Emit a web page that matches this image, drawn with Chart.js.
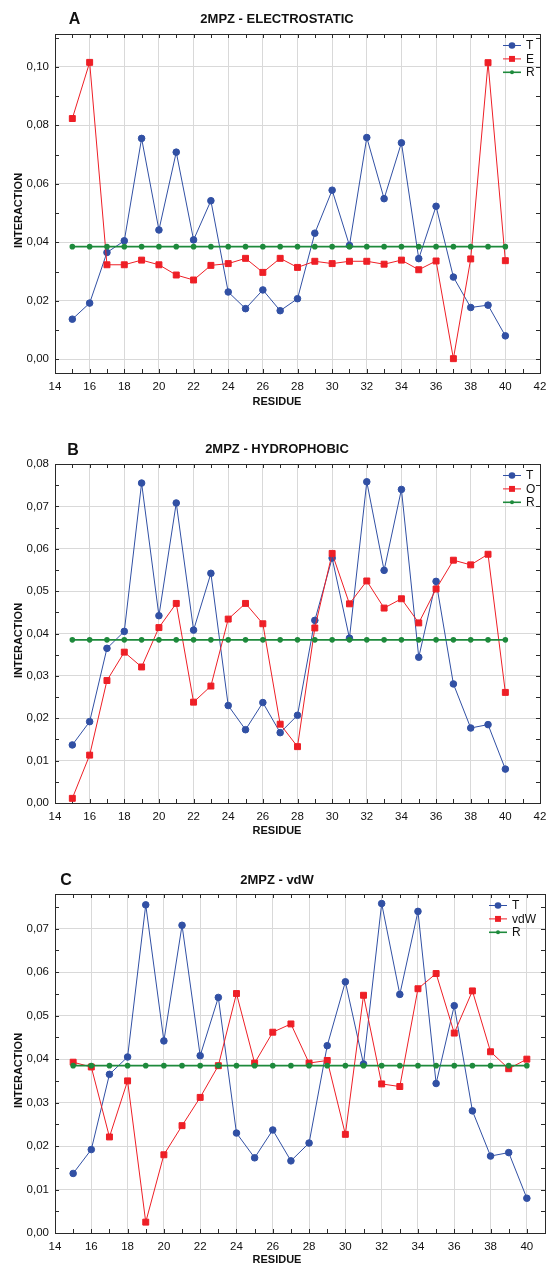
<!DOCTYPE html>
<html>
<head>
<meta charset="utf-8">
<script src="https://cdn.jsdelivr.net/npm/chart.js@4.4.1/dist/chart.umd.min.js"></script>
<style>
  html, body { margin: 0; padding: 0; background: #fff; overflow: hidden; }
  .panel { position: absolute; left: 0; width: 546px; }
</style>
</head>
<body>
<div class="panel" style="top:0px"><canvas id="chartA" width="546" height="412"></canvas></div>
<div class="panel" style="top:430px"><canvas id="chartB" width="546" height="412"></canvas></div>
<div class="panel" style="top:860px"><canvas id="chartC" width="546" height="405"></canvas></div>
<script>
// residues on the x axis
const residues = [15, 16, 17, 18, 19, 20, 21, 22, 23, 24, 25, 26, 27, 28, 29, 30, 31, 32, 33, 34, 35, 36, 37, 38, 39, 40];

// T series (same in all three panels)
const seriesT = [0.0137, 0.0192, 0.0365, 0.0405, 0.0755, 0.0442, 0.0708, 0.0408, 0.0542, 0.0230, 0.0173, 0.0237, 0.0166,
                 0.0207, 0.0431, 0.0578, 0.0389, 0.0758, 0.0549, 0.0740, 0.0344, 0.0523, 0.0281, 0.0177, 0.0185, 0.0080];
// electrostatic
const seriesE = [0.0823, 0.1015, 0.0323, 0.0323, 0.0339, 0.0323, 0.0288, 0.0271, 0.0321, 0.0327, 0.0345, 0.0297, 0.0345,
                 0.0314, 0.0335, 0.0327, 0.0335, 0.0335, 0.0325, 0.0339, 0.0306, 0.0336, 0.0002, 0.0343, 0.1014, 0.0337];
// hydrophobic
const seriesO = [0.0011, 0.0113, 0.0289, 0.0356, 0.0321, 0.0414, 0.0471, 0.0238, 0.0276, 0.0434, 0.0471, 0.0423, 0.0186,
                 0.0133, 0.0413, 0.0589, 0.0470, 0.0524, 0.0460, 0.0482, 0.0425, 0.0505, 0.0573, 0.0562, 0.0587, 0.0261];
// van der Waals
const seriesVdW = [0.0393, 0.0382, 0.0221, 0.0350, 0.0025, 0.0180, 0.0247, 0.0312, 0.0385, 0.0551, 0.0391, 0.0462, 0.0481,
                   0.0391, 0.0397, 0.0227, 0.0547, 0.0343, 0.0337, 0.0562, 0.0597, 0.0460, 0.0557, 0.0417, 0.0378, 0.0400];
// reference level R
const seriesR = [0.0385, 0.0385, 0.0385, 0.0385, 0.0385, 0.0385, 0.0385, 0.0385, 0.0385, 0.0385, 0.0385, 0.0385, 0.0385,
                 0.0385, 0.0385, 0.0385, 0.0385, 0.0385, 0.0385, 0.0385, 0.0385, 0.0385, 0.0385, 0.0385, 0.0385, 0.0385];

// tick labels
const xTicksAB = [14, 16, 18, 20, 22, 24, 26, 28, 30, 32, 34, 36, 38, 40, 42];
const xTicksC = [14, 16, 18, 20, 22, 24, 26, 28, 30, 32, 34, 36, 38, 40];
const yTicksA = [0, 0.02, 0.04, 0.06, 0.08, 0.10];
const yTicksB = [0, 0.01, 0.02, 0.03, 0.04, 0.05, 0.06, 0.07, 0.08];
const yTicksC = [0, 0.01, 0.02, 0.03, 0.04, 0.05, 0.06, 0.07];

const FONT = "'Liberation Sans', Arial, sans-serif";
const BLUE = '#3150a4';
const RED = '#ee1f26';
const GREEN = '#1e8a3c';

const toPoints = (vals) => residues.map((r, i) => ({ x: r, y: vals[i] }));

// frame, inner minor ticks, titles and the legend inside the plot
const panelDecor = {
    id: 'panelDecor',
    beforeDatasetsDraw(chart, args, opts) {
        const { ctx, chartArea: a, scales: { x, y } } = chart;
        ctx.save();
        ctx.strokeStyle = '#2a2a2a';
        ctx.lineWidth = 1;
        ctx.beginPath();
        for (let v = Math.ceil(x.min); v <= x.max; v++) {
            const px = Math.round(x.getPixelForValue(v)) + 0.5;
            ctx.moveTo(px, a.bottom); ctx.lineTo(px, a.bottom - 4);
            ctx.moveTo(px, a.top); ctx.lineTo(px, a.top + 4);
        }
        for (let k = 0; k * opts.yMinor <= y.max + 1e-9; k++) {
            const py = Math.round(y.getPixelForValue(k * opts.yMinor)) + 0.5;
            ctx.moveTo(a.left, py); ctx.lineTo(a.left + 4, py);
            ctx.moveTo(a.right, py); ctx.lineTo(a.right - 4, py);
        }
        ctx.stroke();
        ctx.strokeRect(Math.round(a.left) + 0.5, Math.round(a.top) + 0.5, Math.round(a.width), Math.round(a.height));
        ctx.restore();
    },
    afterDraw(chart, args, opts) {
        const { ctx, chartArea: a } = chart;
        ctx.save();
        ctx.fillStyle = '#111';
        ctx.textAlign = 'center';
        ctx.textBaseline = 'middle';

        ctx.font = 'bold 16px ' + FONT;
        ctx.fillText(opts.letter, opts.letterX, opts.headY + 1);
        ctx.font = 'bold 13px ' + FONT;
        ctx.fillText(opts.title, 277, opts.headY);

        ctx.font = 'bold 11px ' + FONT;
        ctx.fillText('RESIDUE', 277, opts.xTitleY);
        ctx.save();
        ctx.translate(19, (a.top + a.bottom) / 2 + 7);
        ctx.rotate(-Math.PI / 2);
        ctx.fillText('INTERACTION', 0, 0);
        ctx.restore();

        // legend
        ctx.font = '12px ' + FONT;
        ctx.textAlign = 'left';
        chart.data.datasets.forEach((ds, i) => {
            const ly = a.top + 11.5 + i * 13.4;
            const lx = opts.legendX;
            ctx.strokeStyle = ds.borderColor;
            ctx.lineWidth = ds.borderWidth;
            ctx.beginPath();
            ctx.moveTo(lx, ly); ctx.lineTo(lx + 18, ly);
            ctx.stroke();
            ctx.fillStyle = ds.pointBackgroundColor;
            const r = ds.pointRadius;
            if (ds.pointStyle === 'rect') {
                const s = r * Math.SQRT2;
                ctx.fillRect(lx + 9 - s / 2, ly - s / 2, s, s);
            } else {
                ctx.beginPath();
                ctx.arc(lx + 9, ly, r, 0, Math.PI * 2);
                ctx.fill();
            }
            ctx.fillStyle = '#111';
            ctx.fillText(ds.label, lx + 23, ly + 0.5);
        });
        ctx.restore();
    }
};

function makeDatasets(label2, vals2) {
    return [
        { label: 'T', data: toPoints(seriesT), borderColor: BLUE, backgroundColor: BLUE,
          pointBackgroundColor: BLUE, pointBorderColor: BLUE, borderWidth: 1, pointRadius: 3.3,
          pointStyle: 'circle', order: 2 },
        { label: label2, data: toPoints(vals2), borderColor: RED, backgroundColor: RED,
          pointBackgroundColor: RED, pointBorderColor: RED, borderWidth: 1, pointRadius: 4.2,
          pointStyle: 'rect', order: 1 },
        { label: 'R', data: toPoints(seriesR), borderColor: GREEN, backgroundColor: GREEN,
          pointBackgroundColor: GREEN, pointBorderColor: GREEN, borderWidth: 1.6, pointRadius: 2,
          pointStyle: 'circle', order: 0 }
    ];
}

function makeChart(id, cfg) {
    const canvas = document.getElementById(id);
    const H = canvas.height;
    return new Chart(canvas, {
        type: 'line',
        data: { datasets: makeDatasets(cfg.label2, cfg.vals2) },
        options: {
            responsive: false,
            animation: false,
            events: [],
            layout: { autoPadding: false, padding: { top: 34, right: 546 - cfg.right, left: 0, bottom: 0 } },
            plugins: {
                legend: { display: false },
                tooltip: { enabled: false },
                panelDecor: {
                    letter: cfg.letter, letterX: cfg.letterX, title: cfg.title, headY: cfg.headY,
                    xTitleY: cfg.xTitleY, legendX: cfg.legendX, yMinor: cfg.yMinor
                }
            },
            scales: {
                x: {
                    type: 'linear', min: 14, max: cfg.xMax,
                    afterFit: (s) => {
                        s.height = H - 373;
                        s.paddingLeft = 0;
                        s.paddingRight = 0;
                    },
                    afterBuildTicks: (s) => { s.ticks = cfg.xTicks.map(v => ({ value: v })); },
                    grid: { color: '#d9d9d9', lineWidth: 1, drawTicks: false },
                    border: { display: false },
                    ticks: { padding: 7, color: '#111', font: { family: FONT, size: 11.5 }, maxRotation: 0 }
                },
                y: {
                    type: 'linear', min: cfg.yMin, max: cfg.yMax,
                    afterFit: (s) => {
                        s.width = 55;
                        s.paddingTop = 0;
                        s.paddingBottom = 0;
                    },
                    afterBuildTicks: (s) => { s.ticks = cfg.yTicks.map(v => ({ value: v })); },
                    grid: { color: '#d9d9d9', lineWidth: 1, drawTicks: false },
                    border: { display: false },
                    ticks: {
                        padding: 6, color: '#111', font: { family: FONT, size: 11.5 },
                        callback: (v) => v.toFixed(2).replace('.', ',')
                    }
                }
            }
        },
        plugins: [panelDecor]
    });
}

makeChart('chartA', {
    label2: 'E', vals2: seriesE, letter: 'A', letterX: 74.5, title: '2MPZ - ELECTROSTATIC', headY: 19,
    xTitleY: 402, legendX: 503, right: 540, xMax: 42, xTicks: xTicksAB,
    yMin: -0.0047, yMax: 0.1112, yTicks: yTicksA, yMinor: 0.01
});
makeChart('chartB', {
    label2: 'O', vals2: seriesO, letter: 'B', letterX: 73, title: '2MPZ - HYDROPHOBIC', headY: 19.5,
    xTitleY: 401, legendX: 503, right: 540, xMax: 42, xTicks: xTicksAB,
    yMin: 0, yMax: 0.08, yTicks: yTicksB, yMinor: 0.005
});
makeChart('chartC', {
    label2: 'vdW', vals2: seriesVdW, letter: 'C', letterX: 66, title: '2MPZ - vdW', headY: 20,
    xTitleY: 400, legendX: 489, right: 545, xMax: 41, xTicks: xTicksC,
    yMin: 0, yMax: 0.078, yTicks: yTicksC, yMinor: 0.005
});
</script>
</body>
</html>
